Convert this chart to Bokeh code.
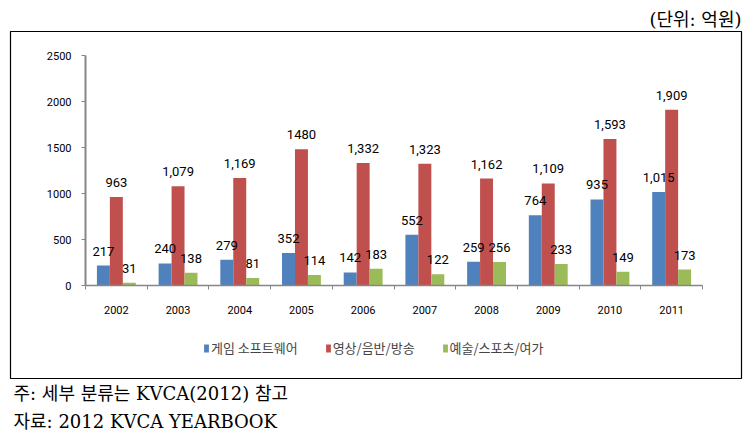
from bokeh.plotting import figure
from bokeh.models import (Range1d, FixedTicker, Legend, LegendItem, Title,
                          LinearAxis, ColumnDataSource)
from bokeh.core.properties import value
from bokeh.embed import file_html
from bokeh.resources import INLINE

years = ["2002", "2003", "2004", "2005", "2006", "2007", "2008", "2009", "2010", "2011"]
series_names = ["게임 소프트웨어", "영상/음반/방송", "예술/스포츠/여가"]
game = [217, 240, 279, 352, 142, 552, 259, 764, 935, 1015]
video = [963, 1079, 1169, 1480, 1332, 1323, 1162, 1109, 1593, 1909]
arts = [31, 138, 81, 114, 183, 122, 256, 233, 149, 173]
game_labels = ["217", "240", "279", "352", "142", "552", "259", "764", "935", "1,015"]
video_labels = ["963", "1,079", "1,169", "1480", "1,332", "1,323", "1,162", "1,109", "1,593", "1,909"]
arts_labels = ["31", "138", "81", "114", "183", "122", "256", "233", "149", "173"]
y_ticks = [0, 500, 1000, 1500, 2000, 2500]
y_max = 2500
unit_text = "(단위: 억원)"
note_text = "주: 세부 분류는 KVCA(2012) 참고"
source_text = "자료: 2012 KVCA YEARBOOK"

colors = ["#4F81BD", "#C0504D", "#9BBB59"]
bw = 0.21
n = len(years)
centers = [i + 0.5 for i in range(n)]

# layout geometry (pixels) of the boxed chart area
W, H = 750, 440
box_l, box_r, box_t, box_b = 10, 9, 31, 62
box_w, box_h = W - box_l - box_r, H - box_t - box_b
plot_left, plot_right = 75, 39      # inner plot area margins inside the box
plot_top, plot_bottom = 24, 93
px_x = (box_w - plot_left - plot_right) / n
px_y = (box_h - plot_top - plot_bottom) / y_max

x_range = Range1d(-plot_left / px_x, n + plot_right / px_x)
y_range = Range1d(-plot_bottom / px_y, y_max + plot_top / px_y)

p = figure(width=W, height=H, output_backend="svg", toolbar_location=None,
           x_range=x_range, y_range=y_range,
           x_axis_location=None, y_axis_location=None,
           min_border_left=box_l, min_border_right=box_r, min_border_top=box_t,
           min_border_bottom=box_b)
p.outline_line_color = "#000000"
p.outline_line_width = 1.2
p.xgrid.visible = False
p.ygrid.visible = False

sources = []
renderers = []
for k, (vals, labs) in enumerate([(game, game_labels), (video, video_labels), (arts, arts_labels)]):
    off = (k - 1) * bw
    src = ColumnDataSource(dict(x=[c + off for c in centers], top=vals, lab=labs))
    sources.append(src)
    r = p.vbar(x="x", top="top", width=bw, bottom=0, source=src,
               fill_color=colors[k], line_color=None)
    renderers.append(r)

# value labels drawn above all bars
for src in sources:
    p.text(x="x", y="top", text="lab", source=src, text_align="center",
           text_baseline="bottom", y_offset=-10, text_font=value("Roboto"),
           text_font_size="13px", text_color="#000000")

# axes fixed at the data origin
xa = LinearAxis(fixed_location=0, bounds=(0, n))
xa.ticker = FixedTicker(ticks=centers, minor_ticks=list(range(n + 1)))
xa.major_label_overrides = {c: y for c, y in zip(centers, years)}
xa.major_tick_line_color = None
xa.minor_tick_out = 4
xa.minor_tick_in = 0
xa.minor_tick_line_color = "#868686"
xa.axis_line_color = "#868686"
xa.axis_line_width = 1.5
xa.major_label_standoff = 14
xa.major_label_text_font = "Roboto"
xa.major_label_text_font_size = "11px"
xa.major_label_text_color = "#000000"
p.add_layout(xa, "below")

ya = LinearAxis(fixed_location=0, bounds=(0, y_max))
ya.ticker = FixedTicker(ticks=y_ticks)
ya.minor_tick_line_color = None
ya.major_tick_out = 4
ya.major_tick_in = 0
ya.major_tick_line_color = "#868686"
ya.axis_line_color = "#868686"
ya.axis_line_width = 2
ya.major_label_standoff = 10
ya.major_label_text_font = "Roboto"
ya.major_label_text_font_size = "11px"
ya.major_label_text_color = "#000000"
p.add_layout(ya, "left")

legend = Legend(items=[LegendItem(label=s, renderers=[r]) for s, r in zip(series_names, renderers)],
                orientation="horizontal", location=(193, 21), border_line_color=None,
                background_fill_alpha=0, glyph_width=6, glyph_height=10,
                label_standoff=2, spacing=27, margin=0, padding=0,
                label_text_font="Noto Sans CJK KR", label_text_font_size="13px")
p.add_layout(legend)

serif_cjk = "DejaVu Serif, Noto Sans CJK KR"
p.add_layout(Title(text=unit_text, align="right", vertical_align="top", text_font=serif_cjk,
                   text_font_size="18px", text_font_style="normal",
                   text_color="#000000", standoff=0), "above")
p.add_layout(Title(text=note_text, align="left", text_font=serif_cjk,
                   text_font_size="18px", text_font_style="normal", offset=3,
                   text_color="#000000", standoff=4), "below")
p.add_layout(Title(text=source_text, align="left", text_font=serif_cjk,
                   text_font_size="18px", text_font_style="normal", offset=3,
                   text_color="#000000", standoff=6), "below")

open("out.html", "w").write(file_html(p, INLINE))
